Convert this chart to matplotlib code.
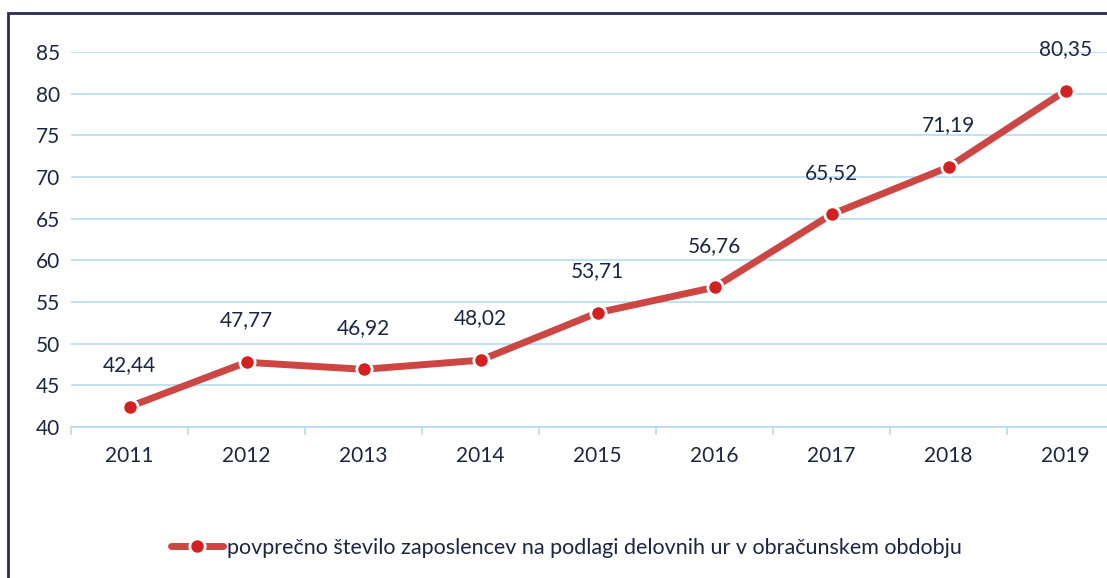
import matplotlib.pyplot as plt
from matplotlib.patches import Rectangle

years = ['2011', '2012', '2013', '2014', '2015', '2016', '2017', '2018', '2019']
values = [42.44, 47.77, 46.92, 48.02, 53.71, 56.76, 65.52, 71.19, 80.35]
series_name = 'povprečno število zaposlencev na podlagi delovnih ur v obračunskem obdobju'

plt.rcParams['font.family'] = ['Lato', 'DejaVu Sans']
navy = '#1c2541'
red = '#cc4644'
grid_blue = '#b0d8f0'

fig = plt.figure(figsize=(11.07, 5.78), dpi=100)
ax = fig.add_axes([71 / 1107, 1 - 427 / 578, (1124 - 71) / 1107, (427 - 52) / 578])

x = list(range(len(years)))
line, = ax.plot(x, values, color=red, linewidth=5, marker='o', markersize=11,
                markerfacecolor='#d42020', markeredgecolor='white', markeredgewidth=2,
                solid_capstyle='round', zorder=3)

for xi, v in zip(x, values):
    ax.annotate(f'{v:.2f}'.replace('.', ','), (xi, v), xytext=(0, 30),
                textcoords='offset points', ha='center', va='center',
                fontsize=15, color=navy)

ax.set_xlim(-0.5, len(years) - 0.5)
ax.set_ylim(40, 85)
ax.set_yticks(range(40, 86, 5))
ax.set_xticks(x)
ax.set_xticklabels(years)
ax.set_xticks([i - 0.5 for i in range(len(years) + 1)], minor=True)
ax.grid(axis='y', color=grid_blue, linewidth=1.1)
ax.set_axisbelow(True)
for s in ['top', 'right', 'left']:
    ax.spines[s].set_visible(False)
ax.spines['bottom'].set_color(grid_blue)
ax.spines['bottom'].set_linewidth(1.1)
ax.tick_params(axis='y', length=0, labelsize=15, labelcolor=navy, pad=8)
ax.tick_params(axis='x', which='major', length=0, labelsize=15, labelcolor=navy, pad=14)
ax.tick_params(axis='x', which='minor', length=6, color=grid_blue, width=1.1, direction='out')

fig.legend([line], [series_name], loc='center', bbox_to_anchor=(0.512, 1 - 548 / 578),
           frameon=False, fontsize=15.5, labelcolor=navy, handlelength=2.4, handletextpad=0.2)

fig.patches.append(Rectangle((8 / 1107, -0.1), 1.2, 1.1 - 13 / 578, transform=fig.transFigure,
                             fill=False, edgecolor='#2a2a5a', linewidth=2))

fig.savefig('out.png', dpi=100)
